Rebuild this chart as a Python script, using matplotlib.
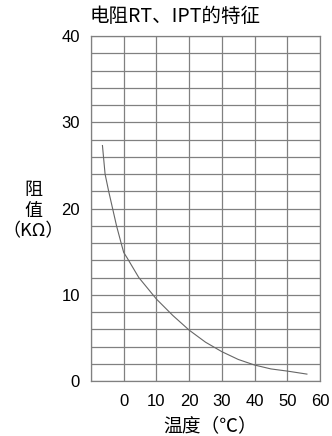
import matplotlib
matplotlib.use("Agg")
import matplotlib.pyplot as plt
import numpy as np

plt.rcParams['font.family'] = ['Noto Sans CJK SC', 'DejaVu Sans']

temp = [-6.5, -5.7, -4.6, -3.4, -2.2, -0.8, 0, 1, 4.6, 10, 15, 20, 25, 30, 35, 40, 45, 50, 56]
resist = [27.3, 24, 22, 20, 18, 16, 14.9, 14.3, 12, 9.5, 7.6, 5.9, 4.5, 3.4, 2.5, 1.85, 1.4, 1.15, 0.8]
xticks = [0, 10, 20, 30, 40, 50, 60]
yticks = [0, 10, 20, 30, 40]

fig = plt.figure(figsize=(3.32, 4.36), dpi=100)
ax = fig.add_axes([91/332, 55/436, 229/332, 345/436])
ax.set_xlim(-10, 60)
ax.set_ylim(0, 40)
ax.set_xticks(xticks)
ax.set_yticks(yticks)
ax.set_xticks(np.arange(-10, 61, 10), minor=True)
ax.set_yticks(np.arange(0, 41, 2), minor=True)
ax.grid(True, which='both', color='#808080', linewidth=0.9)
ax.tick_params(which='both', length=0)
ax.tick_params(axis='y', pad=8)
ax.tick_params(axis='x', pad=9)
for lab in ax.get_xticklabels() + ax.get_yticklabels():
    lab.set_fontfamily('Liberation Sans')
    lab.set_fontsize(12)
for s in ax.spines.values():
    s.set_color('#808080')
    s.set_linewidth(0.9)
ax.set_axisbelow(True)

ax.plot(temp, resist, color='#666666', linewidth=0.8)

fig.text(90/332, 1 - 16/436, '电阻RT、IPT的特征', ha='left', va='center', fontsize=14)
for txt, yy in [('阻', 190), ('值', 211), ('（KΩ）', 231)]:
    fig.text(33/332, 1 - yy/436, txt, ha='center', va='center', fontsize=13)
fig.text(210/332, 1 - 426/436, '温度（℃）', ha='center', va='center', fontsize=13.5)

fig.savefig('out.png', dpi=100)
